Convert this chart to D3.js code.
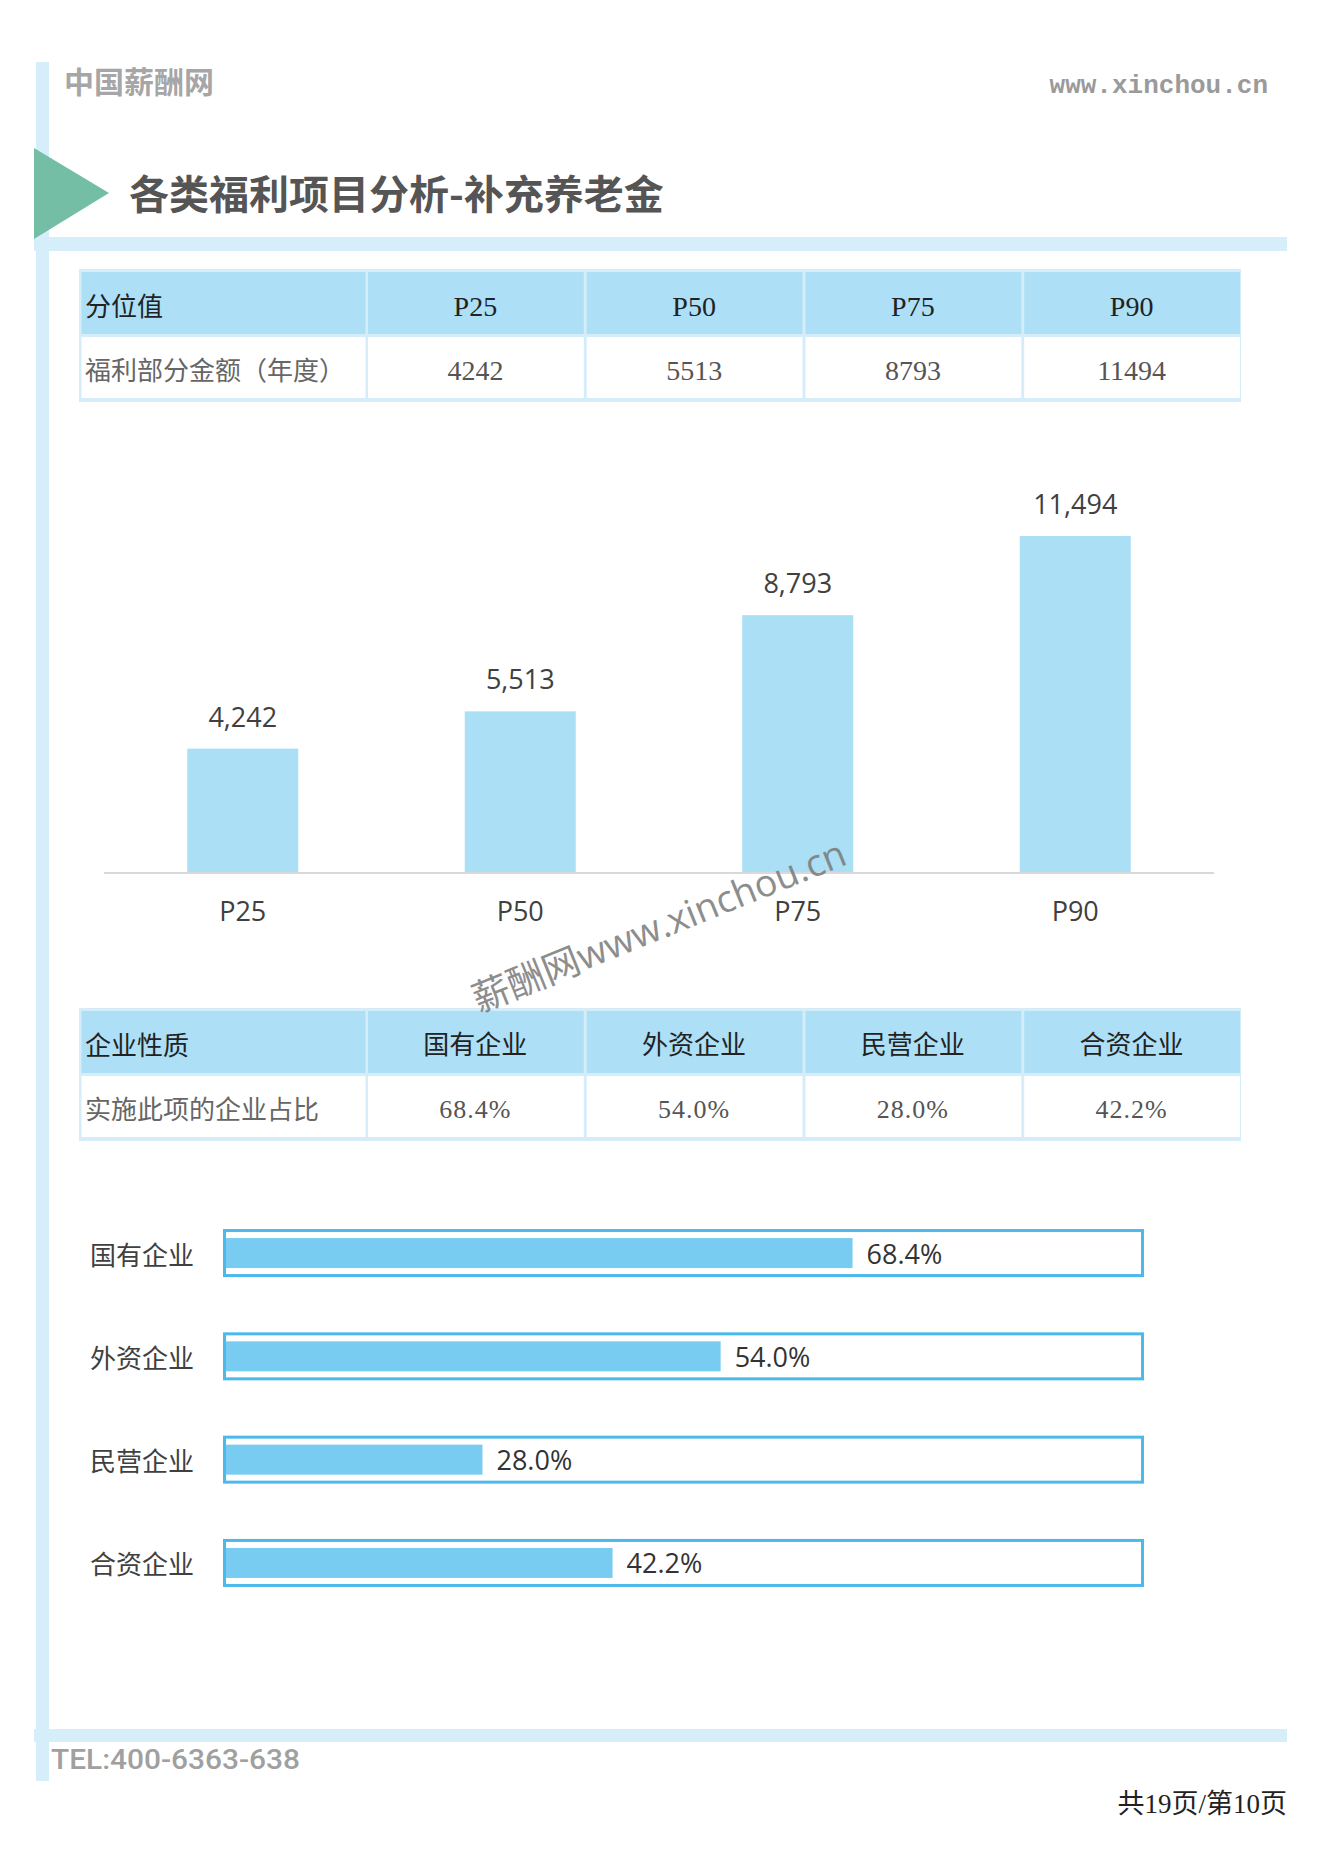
<!DOCTYPE html>
<html><head><meta charset="utf-8">
<script src="https://cdn.jsdelivr.net/npm/d3@7"></script>
<style>html,body{margin:0;padding:0;background:#fff;}svg{display:block;}</style>
</head><body>
<script>
// ---- data ----
const quantiles = ["P25", "P50", "P75", "P90"];
const amounts = [4242, 5513, 8793, 11494];
const enterpriseTypes = ["国有企业", "外资企业", "民营企业", "合资企业"];
const shares = [68.4, 54.0, 28.0, 42.2];
const table1Labels = ["分位值", "福利部分金额（年度）"];
const table2Labels = ["企业性质", "实施此项的企业占比"];
const pageTitle = "各类福利项目分析-补充养老金";
const brandName = "中国薪酬网";
const siteUrl = "www.xinchou.cn";
const telText = "TEL:400-6363-638";
const pageText = "共19页/第10页";
const watermark = "薪酬网www.xinchou.cn";

const W = 1323, H = 1871;
const svg = d3.select("body").append("svg").attr("width", W).attr("height", H);
const CJK = "'Noto Sans CJK SC', sans-serif";
const SERIF = "'Liberation Serif', 'Noto Sans CJK SC', serif";
const LAT = "'Open Sans', 'Noto Sans CJK SC', sans-serif";
const pale = "#D6EEF9";

// ---- page frame ----
svg.append("rect").attr("x", 36).attr("y", 62).attr("width", 13).attr("height", 1719).attr("fill", pale);
svg.append("rect").attr("x", 34).attr("y", 237).attr("width", 1253).attr("height", 14).attr("fill", pale);
svg.append("rect").attr("x", 34).attr("y", 1729).attr("width", 1253).attr("height", 13).attr("fill", pale);
svg.append("path").attr("d", "M34,148 L109,193 L34,239 Z").attr("fill", "#74BEA6");

svg.append("text").attr("x", 64).attr("y", 80).attr("dominant-baseline", "central")
  .attr("font-family", CJK).attr("font-size", 30).attr("font-weight", 700).attr("fill", "#a6a6a6").text(brandName);
svg.append("text").attr("x", 1268).attr("y", 86).attr("dominant-baseline", "central").attr("text-anchor", "end")
  .attr("font-family", "'Liberation Mono', 'DejaVu Sans Mono', monospace").attr("font-size", 26).attr("font-weight", 700)
  .attr("fill", "#9a9a9a").text(siteUrl);
svg.append("text").attr("x", 129).attr("y", 192).attr("dominant-baseline", "central")
  .attr("font-family", CJK).attr("font-size", 40).attr("font-weight", 700).attr("fill", "#555").text(pageTitle);

svg.append("text").attr("x", 51).attr("y", 1760).attr("dominant-baseline", "central")
  .attr("font-family", "Roboto, sans-serif").attr("font-size", 27).attr("font-weight", 500).attr("fill", "#a0a0a0")
  .attr("textLength", 249).attr("lengthAdjust", "spacingAndGlyphs").text(telText);
svg.append("text").attr("x", 1287).attr("y", 1804).attr("dominant-baseline", "central").attr("text-anchor", "end")
  .attr("font-family", SERIF).attr("font-size", 27).attr("fill", "#222").text(pageText);

// ---- table helper ----
function drawTable(top, labels, heads, values, valueFmt, valueSpacing, valueSize) {
  const g = svg.append("g");
  const colX = d3.scaleBand().domain(heads).range([366, 1241]);
  const left = 79, firstW = 366 - 79;
  g.append("rect").attr("x", left).attr("y", top).attr("width", 1241 - left).attr("height", 133).attr("fill", "#D4EDF9");
  const rows = [{y: top + 3, h: 62, fill: "#ADDFF6"}, {y: top + 68, h: 61, fill: "#ffffff"}];
  rows.forEach((r, ri) => {
    g.append("rect").attr("x", left + 2.5).attr("y", r.y).attr("width", firstW - 3).attr("height", r.h).attr("fill", r.fill);
    g.selectAll(null).data(heads).enter().append("rect")
      .attr("x", d => colX(d) + 2).attr("y", r.y).attr("width", colX.bandwidth() - 3).attr("height", r.h).attr("fill", r.fill);
    g.append("text").attr("x", 85).attr("y", r.y + r.h / 2 + 1).attr("dominant-baseline", "central")
      .attr("font-family", CJK).attr("font-size", 26).attr("fill", ri === 0 ? "#222" : "#666").text(labels[ri]);
  });
  g.selectAll(null).data(heads).enter().append("text")
    .attr("x", d => colX(d) + colX.bandwidth() / 2).attr("y", rows[0].y + rows[0].h / 2 + 3)
    .attr("dominant-baseline", "central").attr("text-anchor", "middle")
    .attr("font-family", SERIF).attr("font-size", heads[0].length > 3 ? 26 : 28).attr("fill", "#222").text(d => d);
  g.selectAll(null).data(values).enter().append("text")
    .attr("x", (d, i) => colX(heads[i]) + colX.bandwidth() / 2).attr("y", rows[1].y + rows[1].h / 2 + 3)
    .attr("dominant-baseline", "central").attr("text-anchor", "middle")
    .attr("letter-spacing", valueSpacing)
    .attr("font-family", SERIF).attr("font-size", valueSize).attr("fill", "#555").text(valueFmt);
}
drawTable(269, table1Labels, quantiles, amounts, d => String(d), 0, 28);
drawTable(1008, table2Labels, enterpriseTypes, shares, d => d.toFixed(1) + "%", 1, 26);

// ---- column chart ----
const x1 = d3.scaleBand().domain(quantiles).range([104, 1214]).paddingInner(0.6).paddingOuter(0.3);
const y1 = d3.scaleLinear().domain([0, 14000]).range([873, 462.5]);
const cg = svg.append("g");
cg.selectAll(null).data(amounts).enter().append("rect")
  .attr("x", (d, i) => x1(quantiles[i])).attr("width", x1.bandwidth())
  .attr("y", d => y1(d)).attr("height", d => y1(0) - y1(d)).attr("fill", "#ABDFF6");
const xAxis = cg.append("g").attr("transform", `translate(0,${y1(0)})`).call(d3.axisBottom(x1).tickSize(0).tickPadding(0));
xAxis.select(".domain").attr("stroke", "#D9D9D9").attr("stroke-width", 2).attr("d", "M104,0H1214");
xAxis.selectAll(".tick text").attr("font-family", LAT).attr("font-size", 27).attr("fill", "#404040")
  .attr("dy", 0).attr("y", 48);
cg.selectAll(null).data(amounts).enter().append("text")
  .attr("x", (d, i) => x1(quantiles[i]) + x1.bandwidth() / 2).attr("y", d => y1(d) - 22)
  .attr("text-anchor", "middle").attr("font-family", LAT).attr("font-size", 27).attr("fill", "#404040")
  .text(d3.format(","));

// ---- horizontal progress bars ----
const x2 = d3.scaleLinear().domain([0, 100]).range([226, 1142]);
const y2 = d3.scaleBand().domain(enterpriseTypes).range([1201.4, 1614.6]);
const hg = svg.append("g");
const rowsG = hg.selectAll(null).data(enterpriseTypes).enter().append("g")
  .attr("transform", d => `translate(0,${y2(d) + y2.bandwidth() / 2})`);
rowsG.append("rect").attr("x", x2(0) - 1.5).attr("y", -22.5).attr("width", x2(100) - x2(0) + 2)
  .attr("height", 45).attr("fill", "none").attr("stroke", "#4CB9EC").attr("stroke-width", 3);
rowsG.append("rect").attr("x", x2(0)).attr("y", -15).attr("height", 30)
  .attr("width", (d, i) => x2(shares[i]) - x2(0)).attr("fill", "#78CBF1");
rowsG.append("text").attr("x", 90).attr("y", 0).attr("dominant-baseline", "central")
  .attr("font-family", CJK).attr("font-size", 26).attr("fill", "#404040").text(d => d);
rowsG.append("text").attr("x", (d, i) => x2(shares[i]) + 14).attr("y", 0).attr("dominant-baseline", "central")
  .attr("font-family", LAT).attr("font-size", 27).attr("fill", "#333").text((d, i) => shares[i].toFixed(1) + "%");

// ---- watermark ----
svg.append("text").attr("transform", "translate(479,1013) rotate(-22)")
  .attr("font-family", LAT).attr("font-size", 37.5).attr("fill", "#7a7a7a").attr("opacity", 0.85)
  .text(watermark);
</script>
</body></html>
